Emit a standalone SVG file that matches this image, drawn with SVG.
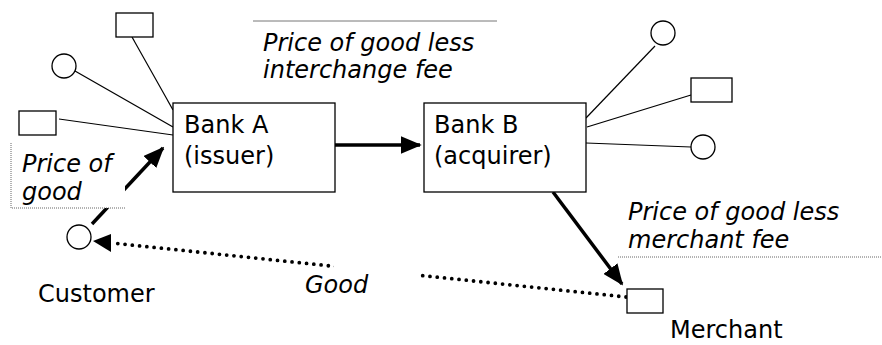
<svg xmlns="http://www.w3.org/2000/svg" width="882" height="345" viewBox="0 0 882 345">
<defs>
<style>
.t{font-family:"DejaVu Sans","Verdana",sans-serif;font-size:24px;fill:#000}
.i{font-style:italic}
.s{fill:#fff;stroke:#000;stroke-width:1.3}
.thin{stroke:#000;stroke-width:1.2;fill:none}
.thick{stroke:#000;stroke-width:3.5;fill:none}
.dot{stroke:#000;stroke-width:3.8;fill:none;stroke-dasharray:0 7.3;stroke-linecap:round}
.gray{stroke:#777;stroke-width:1;fill:none}
.gdot{stroke:#666;stroke-width:1;fill:none;stroke-dasharray:1 1}
</style>
<marker id="ah" markerWidth="6" markerHeight="5" refX="5.5" refY="2.5" orient="auto" markerUnits="strokeWidth">
<path d="M0,0 L6,2.5 L0,5 Z" fill="#000"/>
</marker>
</defs>
<rect width="882" height="345" fill="#fff"/>
<g id="connectors">
<line class="thin" x1="132" y1="37" x2="173" y2="110"/>
<line class="thin" x1="75" y1="71" x2="173" y2="127"/>
<line class="thin" x1="59" y1="119" x2="173" y2="135"/>
<line class="thin" x1="586" y1="118" x2="655" y2="46"/>
<line class="thin" x1="587" y1="127" x2="691" y2="95"/>
<line class="thin" x1="586" y1="143" x2="691" y2="147"/>
<line class="thick" x1="92" y1="224" x2="163" y2="148" marker-end="url(#ah)"/>
<line class="thick" x1="335" y1="145" x2="420" y2="145" marker-end="url(#ah)"/>
<line class="thick" x1="553" y1="192" x2="622" y2="284" marker-end="url(#ah)"/>
<line class="dot" x1="626" y1="297" x2="112" y2="243"/>
<path d="M111,234 L93,241 L111,252 Z" fill="#000"/>
</g>
<g id="label-price-good">
<rect x="11" y="143" width="114" height="65" fill="#fff"/>
<path class="gdot" d="M11,143 V208 H125"/>
<text class="t i" x="22" y="172">Price of</text>
<text class="t i" x="22" y="200">good</text>
</g>
<g id="label-interchange">
<line class="gray" x1="253" y1="21" x2="497" y2="21"/>
<text class="t i" x="263" y="51">Price of good less</text>
<text class="t i" x="263" y="78">interchange fee</text>
</g>
<g id="label-merchant-fee">
<text class="t i" x="628" y="220">Price of good less</text>
<text class="t i" x="628" y="248">merchant fee</text>
<path class="gdot" d="M618,257 H882"/>
</g>
<g id="label-good">
<rect x="334" y="262" width="85" height="38" fill="#fff"/>
<text class="t i" x="305" y="293">Good</text>
</g>
<g id="bankA">
<rect class="s" x="173" y="103" width="162" height="89"/>
<text class="t" x="184" y="133">Bank A</text>
<text class="t" x="184" y="164">(issuer)</text>
</g>
<g id="bankB">
<rect class="s" x="424" y="103" width="162" height="89"/>
<text class="t" x="434" y="133">Bank B</text>
<text class="t" x="434" y="164">(acquirer)</text>
</g>
<g id="a-rect1"><rect class="s" x="116" y="13" width="37" height="24"/></g>
<g id="a-circle1"><circle class="s" cx="64" cy="66" r="12"/></g>
<g id="a-rect2"><rect class="s" x="19" y="111" width="37" height="24"/></g>
<g id="b-circle1"><circle class="s" cx="663" cy="33" r="12"/></g>
<g id="b-rect1"><rect class="s" x="691" y="78" width="41" height="24"/></g>
<g id="b-circle2"><circle class="s" cx="703" cy="147" r="12"/></g>
<g id="customer">
<circle class="s" cx="79" cy="237" r="12"/>
<text class="t" x="38" y="302">Customer</text>
</g>
<g id="merchant">
<rect class="s" x="627" y="289" width="36" height="24"/>
<text class="t" x="670" y="338">Merchant</text>
</g>
</svg>
